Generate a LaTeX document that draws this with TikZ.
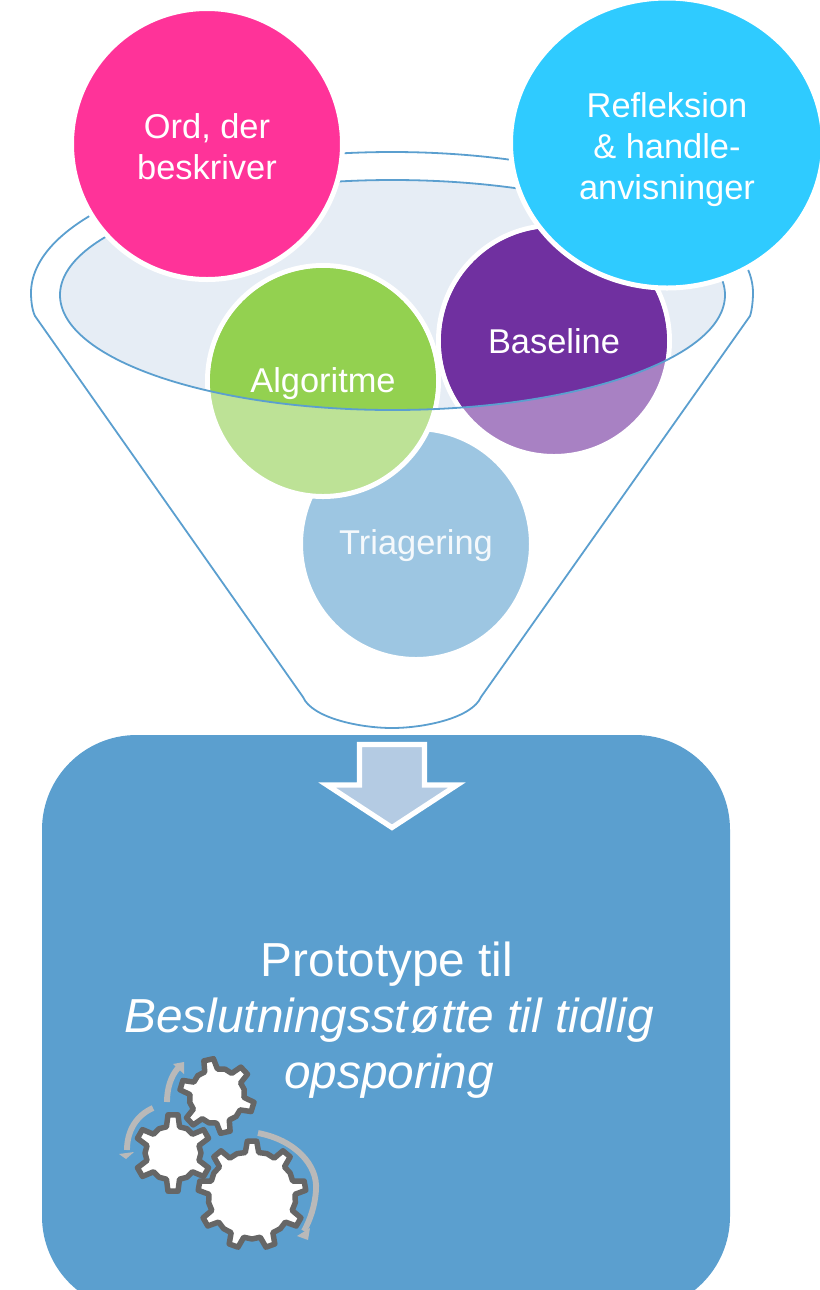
\documentclass[tikz,border=0pt]{standalone}
\usepackage{fontspec}
\usetikzlibrary{shapes.geometric}
\setmainfont{Liberation Sans}
\definecolor{funnelline}{HTML}{5B9FCF}
\definecolor{bowl}{HTML}{E6EDF5}
\definecolor{ordc}{HTML}{FF3399}
\definecolor{reflc}{HTML}{2FCBFF}
\definecolor{algd}{HTML}{93D150}
\definecolor{algl}{HTML}{BDE296}
\definecolor{based}{HTML}{7030A0}
\definecolor{basel}{HTML}{A881C3}
\definecolor{triac}{HTML}{9DC6E2}
\definecolor{boxc}{HTML}{5B9FCF}
\definecolor{arrowc}{HTML}{B4CBE3}
\definecolor{gearline}{HTML}{666666}
\definecolor{turn}{HTML}{B9B9B9}
\tikzset{
  x=0.75pt,y=-0.75pt,
  bubble/.style={circle,draw=white,line width=3.75pt,inner sep=0pt,minimum size=#1*0.75pt},
  label text/.style={text=white,align=center,font=\fontsize{25.8}{30.75}\selectfont},
  proto text/.style={text=white,align=center,font=\fontsize{35.8}{42}\selectfont},
  funnel edge/.style={draw=funnelline,line width=1.35pt},
  gear shape/.style={draw=gearline,fill=white,line width=4.1pt,line join=round},
  turn arrow/.style={draw=turn,line width=4.4pt},
  turn tip/.style={fill=turn,draw=none},
}
% centre x, centre y, teeth, base radius, tip radius, base half angle, tip half angle, start angle
\newcommand{\gearshape}[8]{%
  \draw[gear shape,shift={(#1,#2)}] (#8-#6:#4)
    \foreach \k in {1,...,#3}{
      -- ({#8+(\k-1)*360/#3-#6}:#4)
      -- ({#8+(\k-1)*360/#3-#7}:#5)
      -- ({#8+(\k-1)*360/#3+#7}:#5)
      -- ({#8+(\k-1)*360/#3+#6}:#4)
      -- ({#8+(\k-0.5)*360/#3}:#4+1)
    } -- cycle;}
\begin{document}
\begin{tikzpicture}
\useasboundingbox (0,0) rectangle (820,1290);
\clip (0,0) rectangle (820,1290);
% blue box
\node (box) [fill=boxc,rounded corners=71pt,minimum width=516pt,minimum height=432pt,inner sep=0pt] at (386,1023) {};
% funnel
\path[funnel edge] (303,697) -- (35,316) .. controls (32,310) and (31,300) .. (31,293)
  arc[start angle=180,end angle=0,x radius=361,y radius=-141]
  .. controls (753,300) and (752,310) .. (750,316) -- (481,697)
  .. controls (472,718) and (424,728) .. (392,728)
  .. controls (360,728) and (312,718) .. (303,697);
\path[fill=bowl] (392.5,295) ellipse[x radius=332.5,y radius=115];
% lower circles
\node (tria) [bubble=231,fill=triac] at (416,544) {};
\node (base) [bubble=231,fill=basel] at (554,341) {};
\node (algo) [bubble=231,fill=algl] at (323,381) {};
\begin{scope}
  \clip (392.5,295) ellipse[x radius=332.5,y radius=115];
  \fill[based] (base) circle[radius=113];
  \fill[algd] (algo) circle[radius=113];
\end{scope}
\draw[funnel edge] (392.5,295) ellipse[x radius=332.5,y radius=115];
% upper circles
\node (ord) [bubble=271,fill=ordc] at (207,144) {};
\node (refl) [ellipse,draw=white,line width=3.75pt,fill=reflc,minimum width=234.75pt,minimum height=217.5pt,inner sep=0pt] at (667,143) {};
% labels
\node[label text] at (207,146.5) {Ord, der\\beskriver};
\node[label text] at (667,150) {Refleksion\\\& handle-\\anvisninger};
\node[label text] at (554,341) {Baseline};
\node[label text] at (323,384) {Algoritme};
\node[label text,text=white!90!triac] at (416,546) {Triagering};
% arrow
\path[fill=arrowc,draw=white,line width=3.9pt,miter limit=10] (359.5,744.5) -- (424.5,744.5) -- (424.5,785) -- (457,785) -- (392,827.5) -- (327,785) -- (359.5,785) -- cycle;
% text
\node (proto) [proto text] at (389,1020) {Prototype til\kern3pt\\\textit{Beslutningsst\kern1.5pt ø\kern1.5pt tte til tidlig}\\\textit{opsporing}};
% gears
\draw[turn arrow] (258,1133) .. controls (295,1140) and (318,1165) .. (316,1190) .. controls (315,1206) and (310,1220) .. (304,1231);
\fill[turn tip] (297,1236) -- (308,1240) -- (310,1228) -- cycle;
\draw[turn arrow] (167,1102) .. controls (167,1088) and (171,1076) .. (178,1068);
\fill[turn tip] (173,1064) -- (184,1062) -- (184,1074) -- cycle;
\draw[turn arrow] (153,1108) .. controls (137,1115) and (127,1130) .. (127,1150);
\fill[turn tip] (119,1154) -- (134,1152) -- (126,1159) -- cycle;
\gearshape{217}{1096}{6}{27}{37.5}{14}{7.5}{-103}
\gearshape{173}{1153}{6}{27}{38.5}{14}{7.5}{-90}
\gearshape{252}{1195}{9}{43}{54}{9}{5}{-90}
\end{tikzpicture}
\end{document}
